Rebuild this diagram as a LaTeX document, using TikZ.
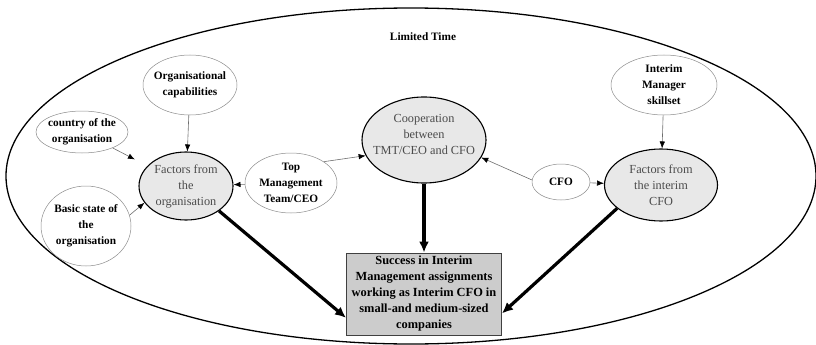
\documentclass[tikz,border=0pt]{standalone}
\usepackage{fontspec}
\setmainfont{Liberation Serif}
\usetikzlibrary{shapes.geometric,arrows.meta}

\definecolor{corefill}{RGB}{232,232,232}
\definecolor{boxfill}{RGB}{204,204,204}
\definecolor{textgrey}{RGB}{75,75,75}
\definecolor{linkgrey}{RGB}{110,110,110}
\definecolor{rimgrey}{RGB}{140,140,140}

\begin{document}
\begin{tikzpicture}[x=1pt,y=-1pt,
  oval/.style={ellipse, inner sep=0pt},
  plain/.style={oval, draw=rimgrey, line width=0.5pt, fill=white},
  core/.style={oval, draw=black, line width=1.1pt, fill=corefill},
  boldtext/.style={align=center, inner sep=0pt, font=\fontsize{11.3}{16}\selectfont\bfseries},
  coretext/.style={align=center, inner sep=0pt, text=textgrey, font=\fontsize{12.3}{16}\selectfont},
  goal/.style={draw=black!75, line width=0.9pt, fill=boxfill, minimum width=155pt, minimum height=82pt,
               align=center, inner sep=0pt, font=\fontsize{12.4}{16}\selectfont\bfseries},
  link/.style={draw=linkgrey, line width=0.6pt, -{Latex[length=7pt,width=5.5pt,color=black]}},
  heavy/.style={draw=black, line width=3.2pt, -{Latex[length=11pt,width=10pt]}}
]
\useasboundingbox (0,0) rectangle (816,345);

% surrounding time frame
\draw[line width=1.3pt] (411,176) ellipse [x radius=405pt, y radius=168pt];
\node[boldtext] (limit) at (423,37) {Limited Time};

% influencing factors
\node[plain, minimum width=94pt, minimum height=60pt] (orgcap) at (190,85) {};
\node[boldtext] (orgcap-t) at (orgcap) {Organisational\\capabilities};

\node[plain, minimum width=92pt, minimum height=42pt] (country) at (82,132) {};
\node[boldtext] (country-t) at (country) {country of the\\organisation};

\node[plain, minimum width=90pt, minimum height=80pt] (basic) at (86,226) {};
\node[boldtext] (basic-t) at (basic) {Basic state of\\the\\organisation};

\node[plain, minimum width=92pt, minimum height=60pt] (top) at (291,183) {};
\node[boldtext] (top-t) at (top) {Top\\Management\\Team/CEO};

\node[plain, minimum width=58pt, minimum height=36pt] (cfo) at (561,182) {};
\node[boldtext] (cfo-t) at (cfo) {CFO};

\node[plain, minimum width=106pt, minimum height=60pt] (skill) at (664,85) {};
\node[boldtext] (skill-t) at (skill) {Interim\\Manager\\skillset};

% core groups
\node[core, minimum width=94pt, minimum height=68pt] (forg) at (186,186) {};
\node[coretext] (forg-t) at (forg) {Factors from\\the\\organisation};

\node[core, minimum width=124pt, minimum height=86pt] (coop) at (424,140) {};
\node[coretext] (coop-t) at (424,134) {Cooperation\\between\\TMT/CEO and CFO};

\node[core, minimum width=113pt, minimum height=72pt] (fint) at (661,185) {};
\node[coretext] (fint-t) at (fint) {Factors from\\the interim\\CFO};

% outcome
\node[goal] (goal) at (424,294) {Success in Interim\\Management assignments\\working as Interim CFO in\\small-and medium-sized\\companies};

% thin influence arrows
\draw[link] (orgcap) -- (forg);
\draw[link, shorten >=14pt] (country) -- (forg);
\draw[link] (basic.14) -- (forg.202);
\draw[link] (top) -- (forg);
\draw[link] (top.33) -- (coop.195);
\draw[link] (cfo.176) -- (coop.343);
\draw[link] (cfo) -- (fint);
\draw[link] (skill) -- (fint);

% heavy arrows into the outcome
\draw[heavy] (forg.-37) -- (goal.197);
\draw[heavy] (coop) -- (goal);
\draw[heavy] (fint.208) -- (goal.346);
\end{tikzpicture}
\end{document}
